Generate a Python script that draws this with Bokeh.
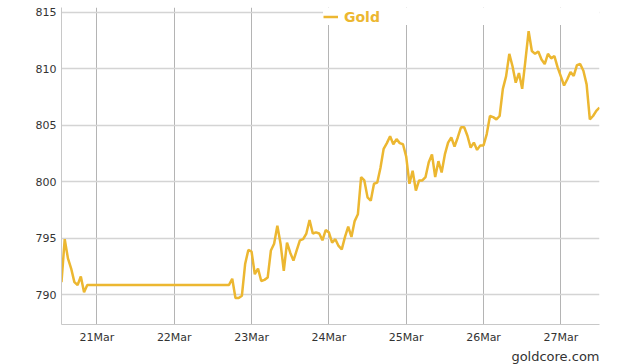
import pandas as pd
from bokeh.plotting import figure
from bokeh.models import (FixedTicker, DatetimeTickFormatter, Range1d, Legend,
                          LegendItem, Title)
from bokeh.embed import file_html
from bokeh.resources import INLINE

# Friday session (hourly, from 20 Mar 13:00)
fri_start = "2015-03-20 13:00"
fri_values = [791.1, 794.9, 793.2, 792.3, 791.1, 790.85, 791.6, 790.2, 790.85]

# From Sunday 22 Mar 17:00 onward (hourly)
week_start = "2015-03-22 17:00"
week_values = [
    790.85, 791.4, 789.7, 789.7, 789.9, 792.7, 793.95, 793.8, 791.8, 792.3,
    791.2, 791.3, 791.5, 793.9, 794.5, 796.1, 794.5, 792.1, 794.6, 793.7,
    793.0, 793.9, 794.8, 794.9, 795.4, 796.6, 795.4, 795.5, 795.4, 794.8,
    795.7, 795.5, 794.6, 794.9, 794.3, 794.0, 795.1, 796.0, 795.1, 796.5,
    797.1, 800.4, 800.1, 798.6, 798.3, 799.8, 799.9, 801.2, 802.9, 803.4,
    804.0, 803.3, 803.75, 803.4, 803.3, 802.2, 799.8, 800.95, 799.2, 800.1,
    800.1, 800.4, 801.7, 802.4, 800.4, 801.8, 800.8, 802.4, 803.45, 803.9,
    803.1, 803.9, 804.8, 804.8, 804.05, 803.0, 803.45, 802.8, 803.2, 803.2,
    804.2, 805.8, 805.7, 805.5, 805.8, 808.2, 809.3, 811.3, 810.2, 808.75,
    809.6, 808.2, 810.7, 813.3, 811.55, 811.3, 811.5, 810.8, 810.4, 811.3,
    810.9, 811.1, 810.1, 809.3, 808.5, 809.05, 809.7, 809.35, 810.3, 810.4,
    809.8, 808.6, 805.5, 805.8, 806.25, 806.55,
]

tick_days = ["2015-03-21", "2015-03-22", "2015-03-23", "2015-03-24",
             "2015-03-25", "2015-03-26", "2015-03-27"]
tick_labels = ["21Mar", "22Mar", "23Mar", "24Mar", "25Mar", "26Mar", "27Mar"]
y_ticks = [790, 795, 800, 805, 810, 815]

series_name = "Gold"
source_text = "goldcore.com"

times = list(pd.date_range(fri_start, periods=len(fri_values), freq="h")) + \
        list(pd.date_range(week_start, periods=len(week_values), freq="h"))
values = fri_values + week_values

x_start = pd.Timestamp("2015-03-20 13:00")
x_end = pd.Timestamp("2015-03-27 12:00")

p = figure(width=617, height=364, x_axis_type="datetime",
           x_range=Range1d(x_start, x_end), y_range=Range1d(787.35, 815.4),
           output_backend="svg", toolbar_location=None,
           min_border_left=61, min_border_right=18, min_border_top=7,
           min_border_bottom=40)
p.outline_line_color = None

line_color = "#ECB731"
r = p.line(times, values, line_color=line_color, line_width=2.5)

tick_ms = [pd.Timestamp(d).value // 10**6 for d in tick_days]
p.xaxis.ticker = FixedTicker(ticks=tick_ms)
p.xaxis.major_label_overrides = {t: l for t, l in zip(tick_ms, tick_labels)}
p.xaxis.formatter = DatetimeTickFormatter(days="%d%b")
p.yaxis.ticker = FixedTicker(ticks=y_ticks)

for ax in (p.xaxis[0], p.yaxis[0]):
    ax.axis_line_color = "#c8c8c8"
    ax.axis_line_width = 1
    ax.major_tick_line_color = None
    ax.minor_tick_line_color = None
    ax.major_tick_out = 0
    ax.major_tick_in = 0
    ax.major_label_text_font = "DejaVu Sans"
    ax.major_label_text_font_size = "11px"
    ax.major_label_text_color = "#333333"
p.xaxis.major_label_standoff = 6
p.yaxis.major_label_standoff = 5

p.xgrid.ticker = FixedTicker(ticks=tick_ms)
p.xgrid.grid_line_color = "#b4b4b4"
p.xgrid.grid_line_width = 1
p.ygrid.grid_line_color = "#d4d4d4"
p.ygrid.grid_line_width = 1.5

legend = Legend(items=[LegendItem(label=series_name, renderers=[r])],
                location=(262, 299), orientation="horizontal",
                padding=0, margin=0, spacing=0,
                glyph_width=15, glyph_height=17, label_height=17,
                label_width=255, label_standoff=6,
                label_text_font="DejaVu Sans", label_text_font_size="14px",
                label_text_font_style="bold", label_text_color=line_color,
                background_fill_color="white", background_fill_alpha=1.0,
                border_line_color=None)
p.add_layout(legend, "center")

src = Title(text=source_text, align="right", standoff=0, offset=0,
            text_font="DejaVu Sans", text_font_size="13px",
            text_font_style="normal", text_color="#333333")
p.add_layout(src, "below")

open("out.html", "w").write(file_html(p, INLINE))
